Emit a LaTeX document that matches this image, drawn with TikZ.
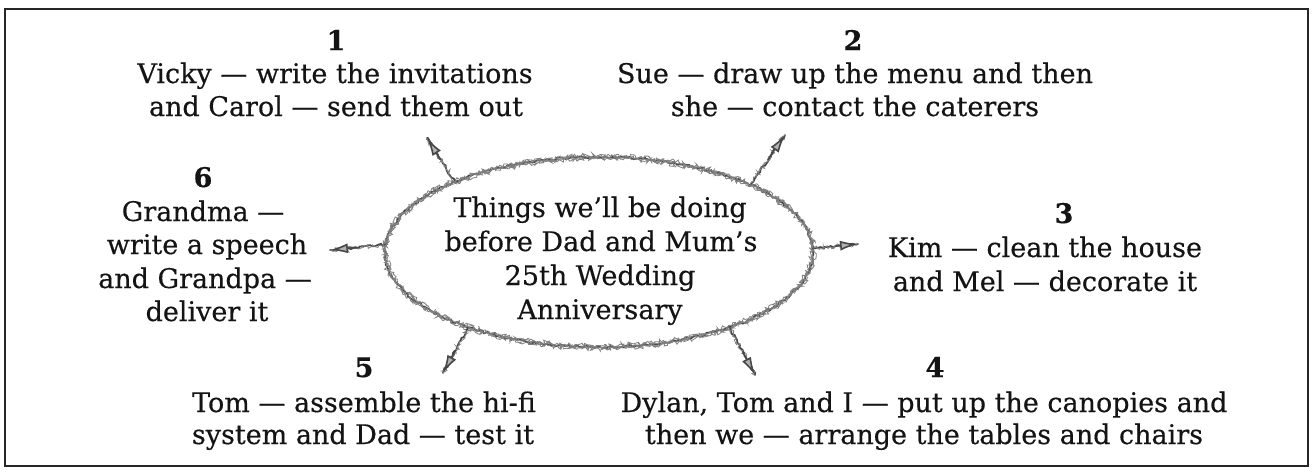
\documentclass[tikz,border=0pt]{standalone}
\usepackage{fontspec}
\setmainfont{DejaVu Serif}[FakeBold=0.4]
\usetikzlibrary{decorations.pathmorphing,arrows.meta,shapes.geometric,calc}
\newcommand\mytxt{\fontsize{27}{33}\selectfont}
\tikzset{
  t/.style={anchor=base, inner sep=0pt, font=\mytxt, text=black!92},
  num/.style={t, font=\mytxt\bfseries},
  sk/.style={draw=black!72, line width=1.7pt, line cap=round, decorate,
    decoration={random steps, segment length=2.5pt, amplitude=1.2pt}},
  skthin/.style={draw=black!50, line width=0.8pt, decorate,
    decoration={random steps, segment length=1.6pt, amplitude=2.3pt}},
  tipx/.style={-{Latex[open,length=18pt,width=10pt,line width=1.6pt,fill=black!30]}, draw=black!72, line width=1.5pt},
}
\begin{document}
\begin{tikzpicture}[x=1pt,y=-1pt]
\pgfmathsetseed{7}
\useasboundingbox (0,0) rectangle (1312,472);
\fill[white] (0,0) rectangle (1312,472);
\draw[line width=2pt, black!85] (5,9) rectangle (1308,466);

% central ellipse
\node[ellipse, minimum width=428pt, minimum height=190pt, inner sep=0pt] (E) at (599,252) {};
\draw[sk] (E.center) ellipse [x radius=214, y radius=95];
\draw[skthin] (E.center) ellipse [x radius=212.5, y radius=93.5];
\draw[skthin] (E.center) ellipse [x radius=215.5, y radius=96.5];
\draw[skthin] (E.center) ellipse [x radius=214, y radius=95];

\node[t] (c1) at (600,217) {Things we'll be doing};
\node[t] (c2) at (601,251) {before Dad and Mum's};
\node[t] (c3) at (600,285) {25th Wedding};
\node[t] (c4) at (600,319) {Anniversary};

% group 1
\node[num] (n1) at (336,50) {1};
\node[t] (a1) at (335,83) {Vicky — write the invitations};
\node[t] (a2) at (336,116) {and Carol — send them out};
% group 2
\node[num] (n2) at (853,50) {2};
\node[t] (b1) at (855,83) {Sue — draw up the menu and then};
\node[t] (b2) at (855,116) {she — contact the caterers};
% group 6
\node[num] (n6) at (203,187) {6};
\node[t] (f1) at (203,221) {Grandma —};
\node[t] (f2) at (207,254) {write a speech};
\node[t] (f3) at (205,288) {and Grandpa —};
\node[t] (f4) at (207,321) {deliver it};
% group 3
\node[num] (n3) at (1064,223) {3};
\node[t] (g1) at (1045,257) {Kim — clean the house};
\node[t] (g2) at (1045,291) {and Mel — decorate it};
% group 5
\node[num] (n5) at (364,377) {5};
\node[t] (h1) at (364,412) {Tom — assemble the hi-fi};
\node[t] (h2) at (363,444) {system and Dad — test it};
% group 4
\node[num] (n4) at (935,377) {4};
\node[t] (k1) at (924,412) {Dylan, Tom and I — put up the canopies and};
\node[t] (k2) at (924,444) {then we — arrange the tables and chairs};

% arrow end points
\coordinate (t1) at (427,138);
\coordinate (t2) at (785,135);
\coordinate (t3) at (858,244);
\coordinate (t6) at (330,250);
\coordinate (t5) at (443,373);
\coordinate (t4) at (755,375);

\foreach \a/\p in {154/t1, 24/t2, 1/t3, 178/t6, 210/t5, 330/t4}{
  \draw[sk] (E.\a) -- (\p);
  \draw[skthin] (E.\a) -- (\p);
  \draw[tipx] ($(E.\a)!0.5!(\p)$) -- (\p);
}
\end{tikzpicture}
\end{document}
